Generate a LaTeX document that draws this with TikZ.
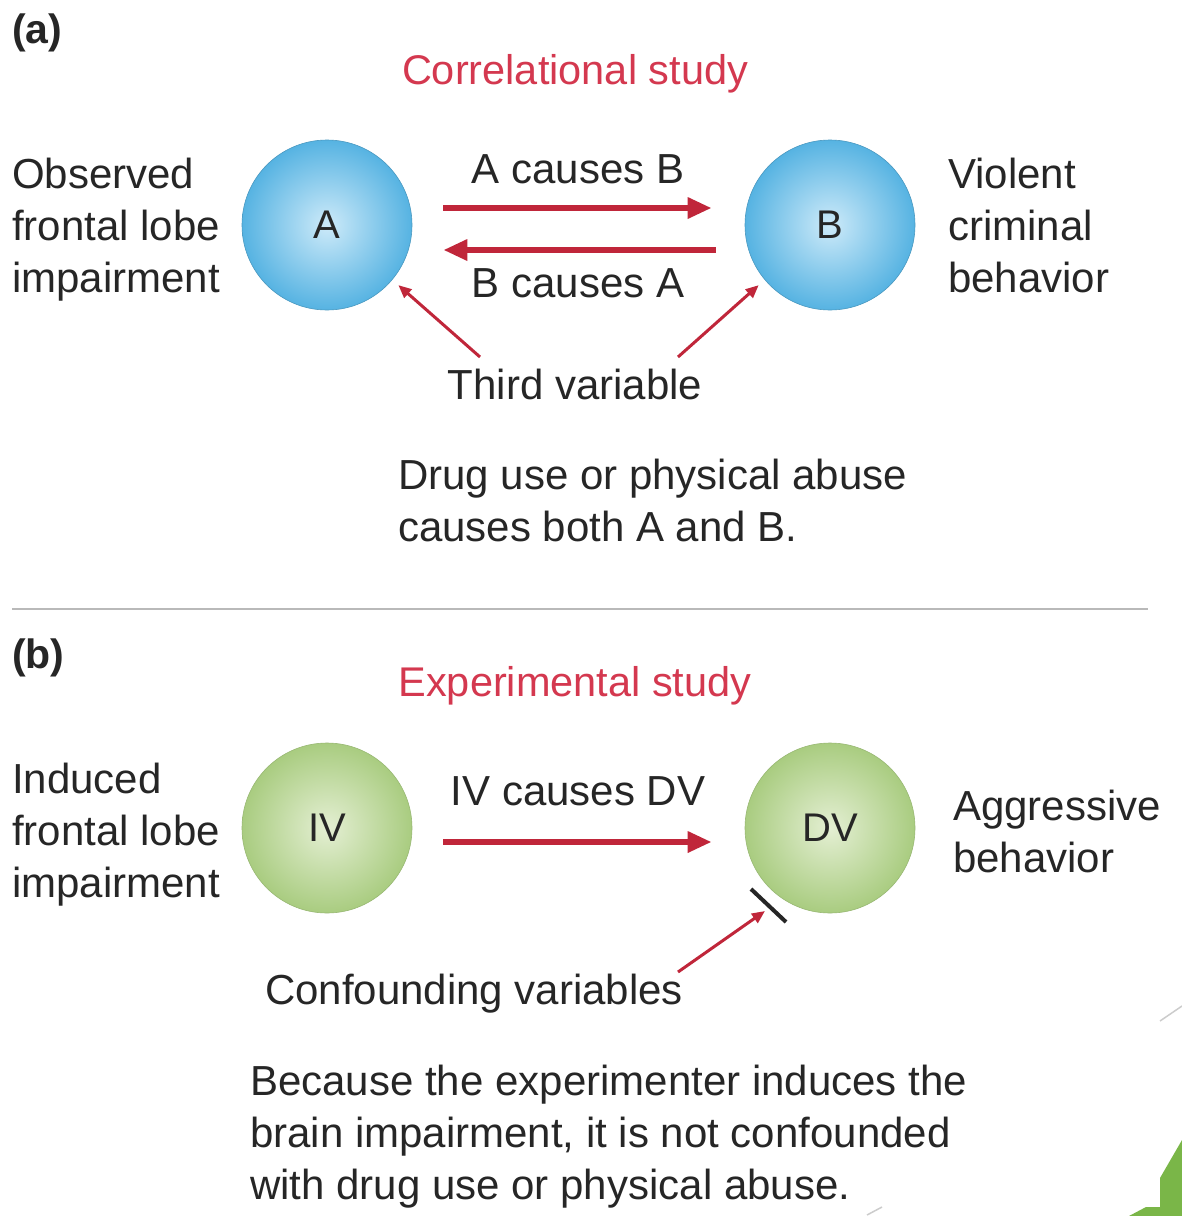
\documentclass[tikz,border=0pt]{standalone}
\usepackage{fontspec}
\setmainfont{Liberation Sans}
\usetikzlibrary{arrows.meta,calc}
\definecolor{txt}{HTML}{262626}
\definecolor{ttl}{HTML}{D4384F}
\definecolor{arr}{HTML}{C0263A}
\definecolor{blueo}{HTML}{56B3E2}
\definecolor{bluei}{HTML}{CDEAF9}
\definecolor{greeno}{HTML}{A9CC80}
\definecolor{greeni}{HTML}{E4EFD3}
\definecolor{deco}{HTML}{7AB648}
\begin{document}
\begin{tikzpicture}[x=1pt,y=-1pt,
  lbl/.style={font=\fontsize{42}{52}\selectfont, text=txt, inner sep=0pt, align=left, anchor=base west},
  mid/.style={font=\fontsize{42}{52}\selectfont, text=txt, inner sep=0pt, anchor=base},
  ttlstyle/.style={font=\fontsize{41.5}{52}\selectfont, text=ttl, inner sep=0pt, anchor=base},
  panel/.style={font=\bfseries\fontsize{41}{52}\selectfont, text=txt, inner sep=0pt, anchor=base west},
  ball/.style={circle, minimum size=170pt, inner sep=0pt, line width=0.6pt, font=\fontsize{40}{48}\selectfont, text=txt},
  ballb/.style={ball, inner color=bluei, outer color=blueo, draw=blueo!85!black},
  ballg/.style={ball, inner color=greeni, outer color=greeno, draw=greeno!90!black},
  bigarrow/.style={draw=arr, line width=6pt, -{Triangle[length=24pt,width=20pt]}},
  thinarrow/.style={draw=arr, line width=3pt, -{Triangle[length=13pt,width=11pt]}},
]
\useasboundingbox (0,0) rectangle (1182,1216);
\fill[white] (0,0) rectangle (1182,1216);

% ---------- (a) ----------
\node[panel] (pa) at (12,43) {(a)};
\node[ttlstyle] (ta) at (575,84) {Correlational study};
\node[ballb] (A) at (327,225) {A};
\node[ballb] (B) at (830,225) {B};
\node[lbl] (la) at (12,292) {Observed\\frontal lobe\\impairment};
\node[lbl] (ra) at (948,292) {Violent\\criminal\\behavior};
\node[mid] (ab) at (578,183) {A causes B};
\node[mid] (ba) at (578,297) {B causes A};
\draw[bigarrow, shorten <=31pt, shorten >=33pt] ([yshift=17pt]A.east) -- ([yshift=17pt]B.west);
\draw[bigarrow, shorten <=29pt, shorten >=31pt] ([yshift=-25pt]B.west) -- ([yshift=-25pt]A.east);
\node[mid] (third) at (575,399) {Third variable};
\coordinate (t1) at (480,357);
\coordinate (t2) at (678,357);
\draw[thinarrow, shorten >=8pt] (t1) -- (A.-40);
\draw[thinarrow, shorten >=8pt] (t2) -- (B.-140);
\node[lbl] (da) at (398,541) {Drug use or physical abuse\\causes both A and B.};

\draw[gray!55, line width=2.2pt] (12,609) -- (1148,609);

% ---------- (b) ----------
\node[panel] (pb) at (12,668) {(b)};
\node[ttlstyle] (tb) at (575,696) {Experimental study};
\node[ballg] (IV) at (327,828) {IV};
\node[ballg] (DV) at (830,828) {DV};
\node[lbl] (lb) at (12,897) {Induced\\frontal lobe\\impairment};
\node[lbl] (rb) at (953,872) {Aggressive\\behavior};
\node[mid] (ivdv) at (578,805) {IV causes DV};
\draw[bigarrow, shorten <=31pt, shorten >=33pt] ([yshift=-14pt]IV.east) -- ([yshift=-14pt]DV.west);
\node[mid] (conf) at (474,1004) {Confounding variables};
\coordinate (c1) at (678,972);
\coordinate (bar1) at (751,889);
\coordinate (bar2) at (786,922);
\draw[txt, line width=4pt] (bar1) -- (bar2);
\coordinate (cend) at (765,911);
\draw[thinarrow] (c1) -- (cend);
\node[lbl] (db) at (250,1199) {Because the experimenter induces the\\brain impairment, it is not confounded\\with drug use or physical abuse.};

% ---------- decoration ----------
\fill[deco] (1182,1140) -- (1160,1178) -- (1160,1207) -- (1146,1207) -- (1129,1216) -- (1182,1216) -- cycle;
\draw[gray!40, line width=1.5pt] (1160,1021) -- (1182,1006);
\draw[gray!40, line width=1.5pt] (867,1215) -- (882,1207);
\end{tikzpicture}
\end{document}
